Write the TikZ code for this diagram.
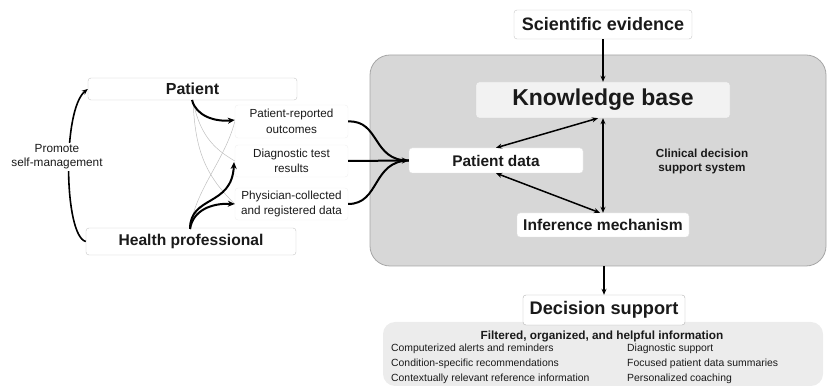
\documentclass[tikz,border=0pt]{standalone}
\usepackage{fontspec}
\setmainfont{Liberation Sans}
\usetikzlibrary{arrows.meta}
\definecolor{txt}{HTML}{1A1A1A}
\definecolor{bigfill}{HTML}{D7D7D7}
\definecolor{bigline}{HTML}{A6A6A6}
\definecolor{kbfill}{HTML}{F2F2F2}
\definecolor{infofill}{HTML}{ECECEC}
\newcommand{\fs}[2]{\fontsize{#1}{#2}\selectfont}
\tikzset{
  box/.style={draw=black!22, fill=white, rounded corners=3pt, text=txt, inner sep=0pt},
  faintbox/.style={draw=black!6, fill=white, rounded corners=3pt, text=txt, inner sep=0pt, align=center, font=\fs{11.7}{15.5}, minimum width=113pt},
  thickarr/.style={line width=2pt, -{Stealth[length=7pt,width=6pt]}},
  thickline/.style={line width=2pt},
  medarr/.style={line width=1.6pt, -{Stealth[length=6pt,width=5pt]}},
  dblarr/.style={line width=1.5pt, {Stealth[length=6pt,width=5pt]}-{Stealth[length=6pt,width=5pt]}},
  thinline/.style={line width=0.5pt, draw=black!25},
  item/.style={anchor=west, text=txt, font=\fs{10.4}{12}, inner sep=0pt}
}
\begin{document}
\begin{tikzpicture}[x=1pt,y=-1pt]
\useasboundingbox (0,0) rectangle (828,387);
% big gray system box
\node[draw=bigline, fill=bigfill, rounded corners=20pt, line width=0.8pt, minimum width=456pt, minimum height=211pt, inner sep=0pt] (cds) at (598,160.5) {};
% info box
\node[fill=infofill, rounded corners=12pt, minimum width=440pt, minimum height=64pt, inner sep=0pt] (info) at (603,354) {};

% left boxes
\node[box, minimum width=209pt, minimum height=22pt, font=\bfseries\fs{16}{18}] (pat) at (192.5,89) {Patient};
\node[box, minimum width=210pt, minimum height=27pt, font=\bfseries\fs{15.6}{18}] (hp) at (191,241.5) {Health professional};
\node[faintbox, minimum height=33pt] (pro) at (291.5,121.5) {Patient-reported\\outcomes};
\node[faintbox, minimum height=32pt] (diag) at (291.5,161) {Diagnostic test\\results};
\node[faintbox, minimum height=32pt] (phys) at (291.5,204) {Physician-collected\\and registered data};

% right boxes
\node[box, minimum width=178pt, minimum height=29pt, font=\bfseries\fs{18}{20}] (sci) at (603,24.5) {Scientific evidence};
\node[draw=black!18, fill=kbfill, rounded corners=3pt, text=txt, inner sep=0pt, minimum width=254pt, minimum height=36pt, font=\bfseries\fs{23}{25}] (kb) at (603,100) {Knowledge base};
\node[draw=black!12, fill=white, rounded corners=3pt, text=txt, inner sep=0pt, minimum width=174pt, minimum height=25pt, font=\bfseries\fs{15.4}{17}] (pd) at (496,160.5) {Patient data};
\node[draw=black!12, fill=white, rounded corners=3pt, text=txt, inner sep=0pt, minimum width=172pt, minimum height=24pt, font=\bfseries\fs{15.6}{17}] (im) at (603,225) {Inference mechanism};
\node[text=txt, align=center, font=\bfseries\fs{11.7}{14}, inner sep=0pt] (cdss) at (702,161) {Clinical decision\\support system};
\node[box, draw=black!30, minimum width=162pt, minimum height=30pt, font=\bfseries\fs{18.2}{20}] (ds) at (604,310) {Decision support};

% info text
\node[text=txt, font=\bfseries\fs{11.8}{13}, inner sep=0pt] (ftitle) at (602,336) {Filtered, organized, and helpful information};
\node[item] (i1) at (391,349) {Computerized alerts and reminders};
\node[item] (i2) at (391,364) {Condition-specific recommendations};
\node[item] (i3) at (391,379) {Contextually relevant reference information};
\node[item] (i4) at (627,349) {Diagnostic support};
\node[item] (i5) at (627,364) {Focused patient data summaries};
\node[item] (i6) at (627,379) {Personalized coaching};

% promote self-management loop
\draw[medarr] (hp.west) .. controls (64,236) and (62,110) .. (pat.west);
\node[fill=white, text=txt, align=center, font=\fs{11.8}{14}, inner sep=2pt] (promote) at (57,157) {Promote\\self-management};

% thin gray cross lines
\draw[thinline] (193,100) .. controls (200,140) and (220,152) .. (diag.west);
\draw[thinline] (193,100) .. controls (195,150) and (205,175) .. (phys.west);
\draw[thinline] (190,229) .. controls (195,190) and (225,160) .. (pro.west);

% thick arrows into the data boxes
\draw[thickarr] (192,100) .. controls (196,116) and (215,122) .. ([yshift=1.5pt]pro.west);
\draw[thickarr] (190,229) .. controls (190,195) and (232,207) .. (234,162);
\draw[thickarr] (190,229) .. controls (193,210) and (212,203) .. (phys.west);

% merge into patient data
\draw[thickline] (pro.east) .. controls (380,120) and (372,161) .. (pd.west);
\draw[thickline] (phys.east) .. controls (380,204) and (372,161) .. (pd.west);
\draw[thickarr] (diag.east) -- (pd.west);

% system arrows
\draw[medarr] (sci.south) -- (kb.north);
\draw[dblarr] ([xshift=-5pt]kb.south) -- (pd.north);
\draw[dblarr] (kb.south) -- (im.north);
\draw[dblarr] (pd.south) -- ([xshift=-3pt]im.north);
\draw[medarr] (ds.north |- cds.south) -- (ds.north);
\end{tikzpicture}
\end{document}
